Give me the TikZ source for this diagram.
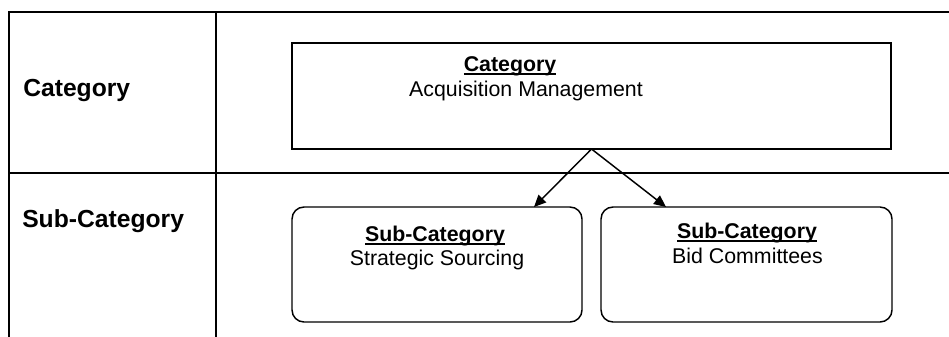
\documentclass[tikz,border=0pt]{standalone}
\usepackage{fontspec}
\setmainfont{Liberation Sans}
\usetikzlibrary{arrows.meta,calc}
\newcommand\myul[1]{\setbox0\hbox{#1}\rlap{\rule[-0.17em]{\wd0}{0.075em}}\box0}
\tikzset{
  gridline/.style={line width=1.5pt, line cap=rect},
  catbox/.style={draw, line width=1.1pt, inner sep=0pt, outer sep=0pt},
  subbox/.style={catbox, rounded corners=9pt},
  lab/.style={font=\fontsize{18.5}{22}\selectfont\bfseries, anchor=base west, inner sep=0pt},
  head/.style={font=\fontsize{16}{19}\selectfont\bfseries, anchor=base, inner sep=0pt},
  body/.style={font=\fontsize{16}{19}\selectfont, anchor=base, inner sep=0pt},
  conn/.style={line width=1.1pt, -{Triangle[length=9pt,width=8pt]}}
}
\begin{document}
\begin{tikzpicture}[x=0.75pt,y=-0.75pt]
\useasboundingbox (0,0) rectangle (949,336);
% table frame
\coordinate (tl) at (9,12);
\coordinate (tr) at (949,12);
\coordinate (bl) at (9,336);
\coordinate (ctop) at (216,12);
\coordinate (cbot) at (216,336);
\coordinate (rl) at (9,173);
\coordinate (rr) at (949,173);
\draw[gridline] (tr) -- (tl) -- (bl);
\draw[gridline] (ctop) -- (cbot);
\draw[gridline] (rl) -- (rr);
% row labels
\node[lab] (lab1) at (23,96) {Category};
\node[lab] (lab2) at (22,227) {Sub-Category};
% boxes
\node[catbox, minimum width=449.25pt, minimum height=79.5pt] (top) at (591.5,96) {};
\node[subbox, minimum width=217.5pt, minimum height=86.25pt] (sub1) at (437,264.5) {};
\node[subbox, minimum width=218.25pt, minimum height=86.25pt] (sub2) at (746.5,264.5) {};
% texts
\node[head] (toph) at (510,71) {\myul{Category}};
\node[body] (topb) at (526,96.5) {Acquisition Management};
\node[head] (sub1h) at (435,241) {\myul{Sub-Category}};
\node[body] (sub1b) at (437,265) {Strategic Sourcing};
\node[head] (sub2h) at (747,238) {\myul{Sub-Category}};
\node[body] (sub2b) at (747.5,263) {Bid Committees};
% connectors
\draw[conn] (top.south) -- ($(sub1.north east)+(-48,0)$);
\draw[conn] (top.south) -- ($(sub2.north west)+(65,0)$);
\end{tikzpicture}
\end{document}
